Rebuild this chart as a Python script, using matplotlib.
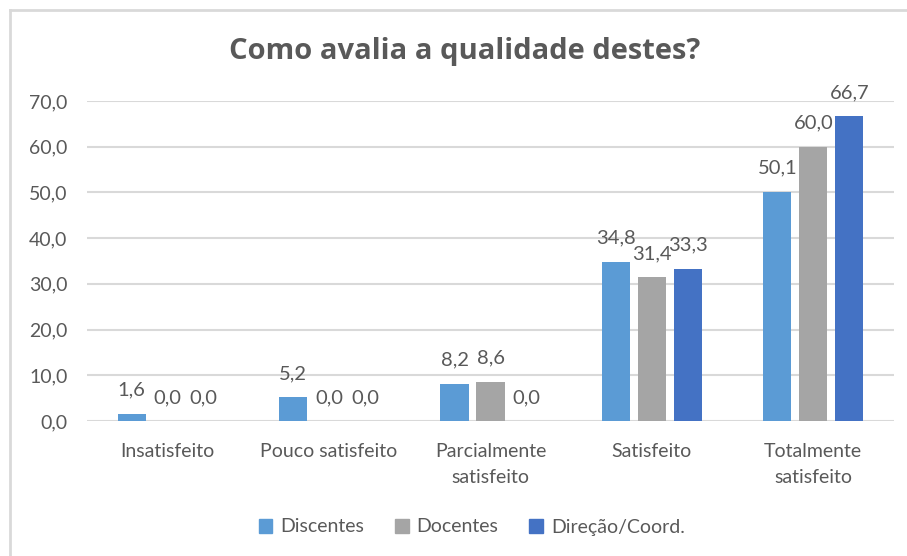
import matplotlib
matplotlib.use("Agg")
import matplotlib.pyplot as plt
import numpy as np
from matplotlib.lines import Line2D

categories = ["Insatisfeito", "Pouco satisfeito", "Parcialmente\nsatisfeito", "Satisfeito", "Totalmente\nsatisfeito"]
series_names = ["Discentes", "Docentes", "Direção/Coord."]
discentes = [1.6, 5.2, 8.2, 34.8, 50.1]
docentes = [0.0, 0.0, 8.6, 31.4, 60.0]
direcao = [0.0, 0.0, 0.0, 33.3, 66.7]
yticks = [0, 10, 20, 30, 40, 50, 60, 70]
title = "Como avalia a qualidade destes?"

colors = ["#5B9BD5", "#A5A5A5", "#4472C4"]
text_color = "#595959"
grid_color = "#D9D9D9"

plt.rcParams['font.family'] = ['Lato', 'DejaVu Sans']

W, H = 907, 556
fig = plt.figure(figsize=(W / 100, H / 100), dpi=100)
ax = fig.add_axes([87 / W, 1 - 421 / H, (894 - 87) / W, (421 - 101) / H])

x = np.arange(len(categories))
width = 0.175
step = 0.223
data = [discentes, docentes, direcao]
for i, (vals, name, c) in enumerate(zip(data, series_names, colors)):
    pos = x + (i - 1) * step
    bars = ax.bar(pos, vals, width, color=c, label=name, zorder=3)
    for p, v in zip(pos, vals):
        ax.annotate(f"{v:.1f}".replace(".", ","), (p, v), xytext=(0, 17),
                    textcoords="offset points", ha="center", va="center",
                    fontsize=14.5, color=text_color, zorder=4)

ax.set_xlim(-0.5, len(categories) - 0.5)
ax.set_ylim(0, 70)
ax.set_yticks(yticks)
ax.set_yticklabels([f"{t:.1f}".replace(".", ",") for t in yticks], fontsize=14, color=text_color)
ax.set_xticks(x)
ax.set_xticklabels(categories, fontsize=14, color=text_color, linespacing=1.6)
ax.tick_params(axis="both", length=0)
ax.tick_params(axis="x", pad=16)
ax.tick_params(axis="y", pad=14)
ax.grid(axis="y", color=grid_color, linewidth=1.5, zorder=0)
for s in ax.spines.values():
    s.set_visible(False)

fig.text(465 / W, 1 - 51 / H, title, ha="center", va="center", fontsize=21,
         fontweight="bold", color=text_color, family=["Open Sans", "DejaVu Sans"])

handles = [plt.Rectangle((0, 0), 1, 1, color=c) for c in colors]
fig.legend(handles, series_names, loc="center", bbox_to_anchor=(0.52, 1 - 527 / H),
           ncol=3, frameon=False, fontsize=14, handlelength=0.7, handleheight=0.7,
           handletextpad=0.4, columnspacing=1.6, labelcolor=text_color)

# chart area border (top and left visible)
fig.add_artist(Line2D([10 / W, 10 / W], [0, 1 - 10 / H], transform=fig.transFigure,
                      color=grid_color, linewidth=2))
fig.add_artist(Line2D([10 / W, 1], [1 - 10 / H, 1 - 10 / H], transform=fig.transFigure,
                      color=grid_color, linewidth=2))

fig.savefig("out.png", dpi=100)
